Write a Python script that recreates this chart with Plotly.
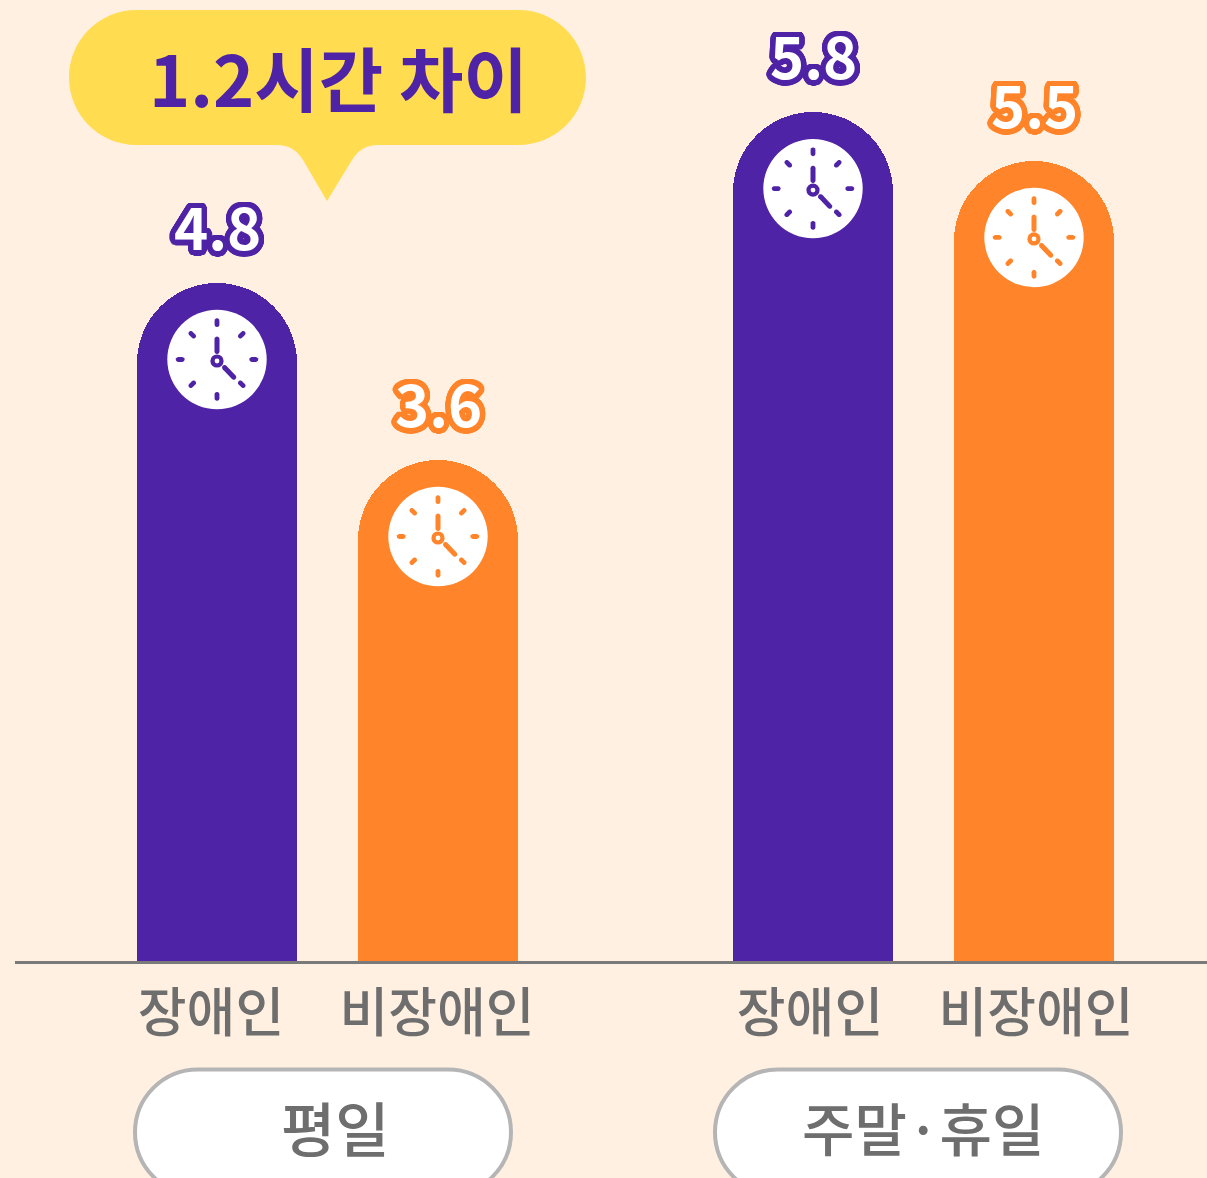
import math
import plotly.graph_objects as go

# ---- data ----
categories = ["장애인", "비장애인", "장애인", "비장애인"]
value_labels = ["4.8", "3.6", "5.8", "5.5"]
# bar heights as drawn in the picture (the source graphic is not strictly proportional)
bar_heights = [4.80, 3.547, 6.01, 5.664]
bar_positions = [217, 438, 813, 1034]
tick_positions = [211, 437, 810, 1036]
group_names = ["평일", "주말·휴일"]
group_sizes = [59, 57]
callout_text = "1.2시간 차이"

# ---- style ----
W, H = 1207, 1178
L, B = 15, 217
PURPLE, ORANGE = "#4F23A5", "#FF842A"
bar_colors = [PURPLE, ORANGE, PURPLE, ORANGE]
BG = "#FFF0E2"
YEL = "#FFDC50"
GRAY = "#6E6E6E"
FONT = "Noto Sans CJK KR"
SCALE = 141.25
PLOT_H = H - B


def py(p):
    return (PLOT_H - p) / PLOT_H


def ring(color, r=5.5, n=32):
    return ",".join(
        f"{r*math.cos(2*math.pi*i/n):.1f}px {r*math.sin(2*math.pi*i/n):.1f}px 0 {color}"
        for i in range(n)
    )


def capsule(x0, y0, x1, y1, w, n=6):
    """rounded stroke polygon, in pixel offsets"""
    a = math.atan2(y1 - y0, x1 - x0)
    r = w / 2
    pts = []
    for i in range(n + 1):
        t = a + math.pi / 2 + math.pi * i / n
        pts.append((x0 + r * math.cos(t), y0 + r * math.sin(t)))
    for i in range(n + 1):
        t = a - math.pi / 2 + math.pi * i / n
        pts.append((x1 + r * math.cos(t), y1 + r * math.sin(t)))
    return "M" + "L".join(f"{x:.2f},{y:.2f}" for x, y in pts) + "Z"


shapes = []


def clock(xc, top, color):
    cy = -76.5  # centre of the clock below the bar top, pixels (positive is up)
    common = dict(xref="x", yref="y", xsizemode="pixel", ysizemode="pixel",
                  xanchor=xc, yanchor=top, layer="above", line=dict(width=0))
    def circ(cx, cyy, r, fill):
        shapes.append(dict(type="circle", x0=cx - r, x1=cx + r, y0=cyy - r, y1=cyy + r,
                           fillcolor=fill, **common))
    def stroke(x0, y0, x1, y1, w=4.8):
        shapes.append(dict(type="path", path=capsule(x0, y0, x1, y1, w), fillcolor=color, **common))
    circ(0, cy, 49.7, "white")
    for deg in range(0, 360, 45):
        a = math.radians(deg)
        r0, r1 = (34.8, 38.8) if deg % 90 == 0 else (33, 37)
        stroke(r0 * math.sin(a), cy + r0 * math.cos(a), r1 * math.sin(a), cy + r1 * math.cos(a))
    stroke(0, cy + 8, 0, cy + 20.4, 5)
    stroke(7.5, cy - 8, 16.8, cy - 17.8, 5)
    circ(0, cy - 1.5, 6.6, color)
    circ(0, cy - 1.5, 2.4, "white")


for xc, top, c in zip(bar_positions, bar_heights, bar_colors):
    clock(xc, top, c)

# callout bubble
bx0, bx1, by0, by1, br = 69, 586, 10, 145, 67.5
K = 0.5523 * br
def P(x, y):
    return f"{x},{py(y):.5f}"
bubble = (
    f"M{P(bx0 + br, by0)} L{P(bx1 - br, by0)} "
    f"C{P(bx1 - br + K, by0)} {P(bx1, by0 + br - K)} {P(bx1, by0 + br)} "
    f"C{P(bx1, by1 - br + K)} {P(bx1 - br + K, by1)} {P(bx1 - br, by1)} "
    f"L{P(378, by1)} Q{P(361, by1)} {P(352, 160)} L{P(327, 201)} L{P(303, 160)} "
    f"Q{P(294, by1)} {P(277, by1)} L{P(bx0 + br, by1)} "
    f"C{P(bx0 + br - K, by1)} {P(bx0, by1 - br + K)} {P(bx0, by1 - br)} "
    f"C{P(bx0, by0 + br - K)} {P(bx0 + br - K, by0)} {P(bx0 + br, by0)} Z"
)
shapes.append(dict(type="path", xref="x", yref="paper", path=bubble, fillcolor=YEL,
                   line=dict(width=0), layer="below"))

# group pills
def pill(x0, x1, y0, y1):
    r = (y1 - y0) / 2
    k = 0.5523 * r
    return (
        f"M{P(x0 + r, y0)} L{P(x1 - r, y0)} "
        f"C{P(x1 - r + k, y0)} {P(x1, y0 + r - k)} {P(x1, y0 + r)} "
        f"C{P(x1, y1 - r + k)} {P(x1 - r + k, y1)} {P(x1 - r, y1)} "
        f"L{P(x0 + r, y1)} "
        f"C{P(x0 + r - k, y1)} {P(x0, y1 - r + k)} {P(x0, y0 + r)} "
        f"C{P(x0, y0 + r - k)} {P(x0 + r - k, y0)} {P(x0 + r, y0)} Z"
    )

group_spans = [(135, 511), (715, 1121)]
group_text_x = [335.5, 923]
for (a, b) in group_spans:
    shapes.append(dict(type="path", xref="x", yref="paper", path=pill(a, b, 1069.5, 1195),
                       fillcolor="white", line=dict(color="#B5B5B5", width=4), layer="below"))

fig = go.Figure(
    go.Bar(
        x=bar_positions,
        y=bar_heights,
        width=160,
        marker=dict(color=bar_colors, line=dict(width=0), cornerradius=80),
        hoverinfo="skip",
    )
)

annotations = []
for xc, top, label, c in zip(bar_positions, bar_heights, value_labels, bar_colors):
    annotations.append(dict(
        x=xc, y=top, xref="x", yref="y", text=label, showarrow=False, yshift=58,
        yanchor="middle", xanchor="center",
        font=dict(family=FONT, size=58, color="white", weight=700, shadow=ring(c)),
    ))
annotations.append(dict(
    x=338, y=py(76), xref="x", yref="paper", text=callout_text, showarrow=False,
    yanchor="middle", xanchor="center",
    font=dict(family=FONT, size=70, color=PURPLE, weight=700),
))
for xt, g, s in zip(group_text_x, group_names, group_sizes):
    annotations.append(dict(
        x=xt, y=py(1126), xref="x", yref="paper", text=g, showarrow=False,
        yanchor="middle", xanchor="center",
        font=dict(family=FONT, size=s, color=GRAY, weight=500),
    ))

fig.update_layout(
    width=W, height=H,
    margin=dict(l=L, r=0, t=0, b=B, pad=0),
    paper_bgcolor=BG, plot_bgcolor=BG,
    showlegend=False,
    shapes=shapes,
    annotations=annotations,
    bargap=0,
    xaxis=dict(
        range=[L, W], tickmode="array", tickvals=tick_positions, ticktext=categories,
        tickfont=dict(family=FONT, size=53, color=GRAY, weight=500),
        showgrid=False, zeroline=False, showline=True, linecolor="#7A7A7A", linewidth=2.5,
        ticks="outside", ticklen=5, tickcolor="rgba(0,0,0,0)", automargin=False,
    ),
    yaxis=dict(
        range=[0, PLOT_H / SCALE], visible=False, showgrid=False, zeroline=False,
        automargin=False,
    ),
)

fig.write_html(
    "out.html",
    config={"displayModeBar": False},
    post_script="document.body.style.margin='0';document.body.style.overflow='hidden';",
)
